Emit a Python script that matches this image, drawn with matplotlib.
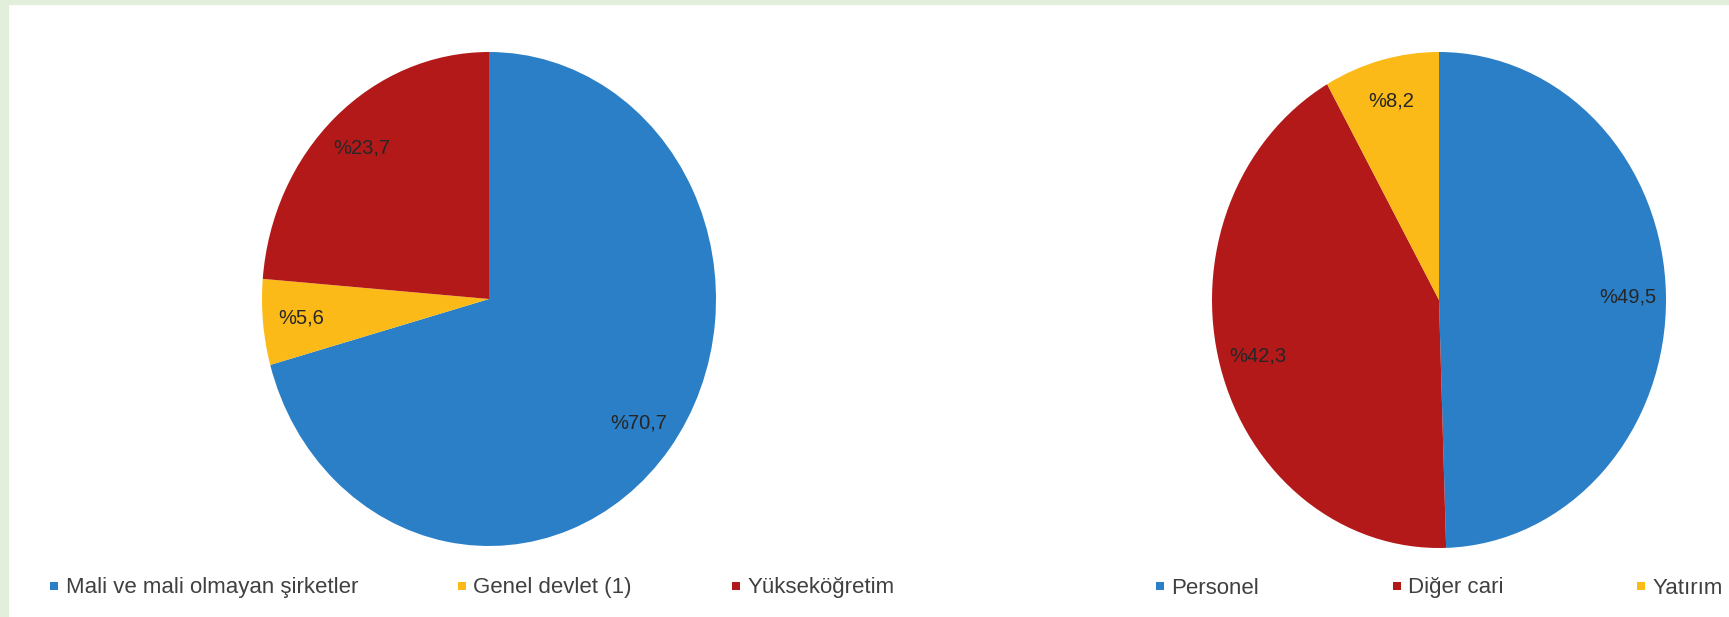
import matplotlib
matplotlib.use('Agg')
import matplotlib.pyplot as plt
from matplotlib.lines import Line2D
from matplotlib.patches import Rectangle

# data
left_labels = ['Mali ve mali olmayan şirketler', 'Genel devlet (1)', 'Yükseköğretim']
left_values = [70.7, 5.6, 23.7]
right_labels = ['Personel', 'Diğer cari', 'Yatırım']
right_values = [49.5, 42.3, 8.2]

blue = '#2B7FC6'
red = '#B31919'
yellow = '#FBBA17'
left_colors = [blue, yellow, red]
right_colors = [blue, red, yellow]

plt.rcParams['font.family'] = ['Liberation Sans', 'DejaVu Sans']

W, H = 1729, 617
fig = plt.figure(figsize=(W / 100, H / 100), dpi=100)
fig.patch.set_facecolor('white')

# light green frame on top and left edge
fig.patches.append(Rectangle((0, 1 - 4 / H), 1, 4 / H, transform=fig.transFigure,
                             color='#E2EFDA', zorder=0))
fig.patches.append(Rectangle((0, 0), 8 / W, 1, transform=fig.transFigure,
                             color='#E2EFDA', zorder=0))


def pct_fmt(p):
    return '%' + f'{p:.1f}'.replace('.', ',')


def make_pie(cx, cy, rx, ry, values, colors):
    ax = fig.add_axes([(cx - rx) / W, 1 - (cy + ry) / H, 2 * rx / W, 2 * ry / H])
    wedges, texts, autotexts = ax.pie(values, colors=colors, startangle=90,
                                      counterclock=False, autopct=pct_fmt,
                                      pctdistance=0.83,
                                      wedgeprops=dict(linewidth=0))
    for t in autotexts:
        t.set_fontsize(14.5)
        t.set_color('#262626')
    ax.set_aspect('auto')
    ax.set_xlim(-1, 1)
    ax.set_ylim(-1, 1)
    ax.axis('off')
    return wedges


make_pie(489, 299, 227, 247, left_values, left_colors)
make_pie(1439, 300, 227, 248, right_values, right_colors)


def make_legend(x_px, labels, colors, spacing):
    handles = [Line2D([], [], linestyle='none', marker='s', markersize=6,
                      markerfacecolor=c, markeredgewidth=0) for c in colors]
    fig.legend(handles, labels, loc='center left',
               bbox_to_anchor=(x_px / W, 1 - 588 / H), ncol=3, frameon=False,
               fontsize=16, labelcolor='#404040', handlelength=0.4,
               handletextpad=0.3, columnspacing=spacing,
               borderpad=0, borderaxespad=0)


make_legend(50, left_labels, left_colors, 4.5)
make_legend(1156, right_labels, right_colors, 6.0)

fig.savefig('out.png', dpi=100, facecolor='white')
